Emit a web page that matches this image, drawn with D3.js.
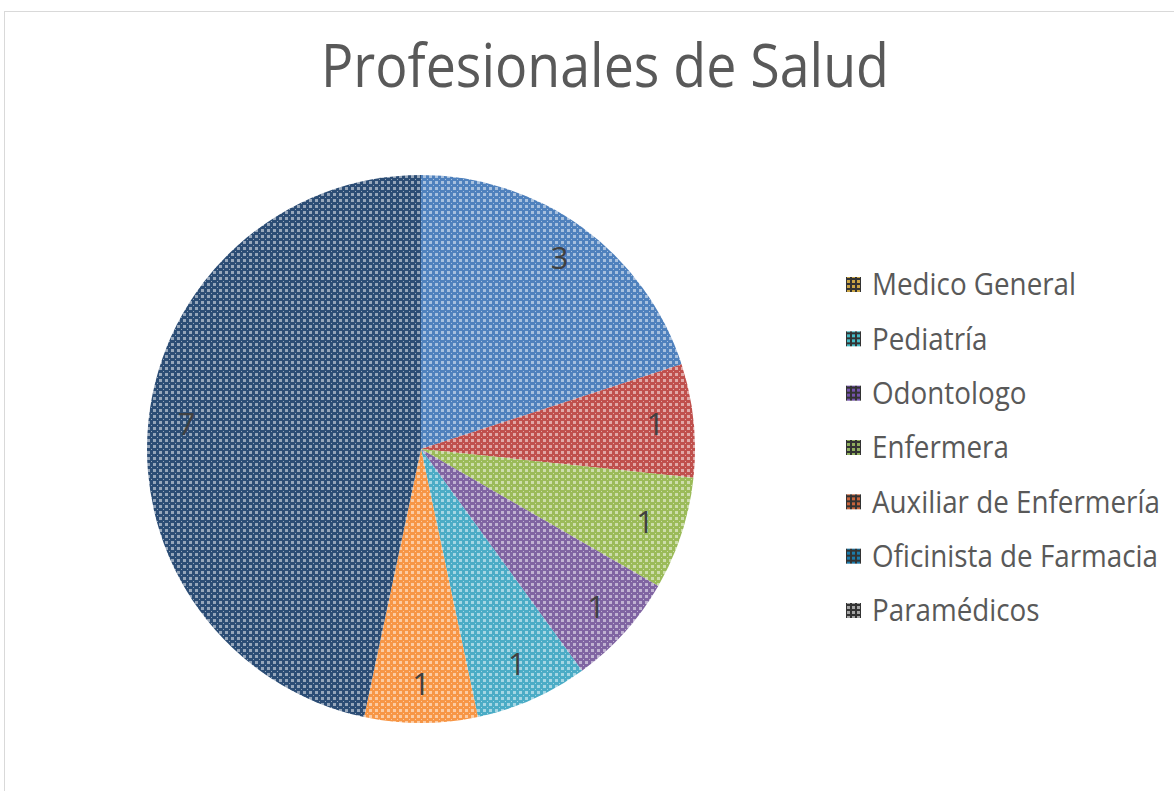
<!DOCTYPE html>
<html>
<head>
<meta charset="utf-8">
<script src="https://cdn.jsdelivr.net/npm/d3@7"></script>
<style>
  body { margin: 0; background: #fff; }
  text { font-family: "Open Sans", "Noto Sans", sans-serif; }
</style>
</head>
<body>
<div id="main"></div>
<script>
// data
const categories = ["Medico General", "Pediatría", "Odontologo", "Enfermera",
    "Auxiliar de Enfermería", "Oficinista de Farmacia", "Paramédicos"];
const values = [3, 1, 1, 1, 1, 1, 7];
const sliceColors = ["#4f81bd", "#c0504d", "#9bbb59", "#8064a2", "#4bacc6", "#f79646", "#2c4d75"];
const legendColors = ["#c9a445", "#46bcc6", "#7453ad", "#8fae5e", "#c8643c", "#1b7bab", "#a5a5a5"];

// dimensions
const svg_width = 1174,
    svg_height = 791;
const cx = 421, cy = 449, radius = 274;

var svg = d3.select("#main").append("svg")
    .attr("width", svg_width)
    .attr("height", svg_height);

// chart frame
svg.append("rect")
    .attr("x", 4.5).attr("y", 11.5)
    .attr("width", svg_width + 20).attr("height", svg_height + 20)
    .attr("fill", "#fff")
    .attr("stroke", "#d9d9d9");

var defs = svg.append("defs");

// pattern fills for the slices (light crosses over the colour)
sliceColors.forEach(function(c, i) {
    var p = defs.append("pattern")
        .attr("id", "slice" + i)
        .attr("patternUnits", "userSpaceOnUse")
        .attr("width", 6).attr("height", 6);
    p.append("rect").attr("width", 6).attr("height", 6).attr("fill", c);
    var light = d3.interpolateRgb(c, "#fff")(0.5);
    p.append("rect").attr("x", 2).attr("y", 2).attr("width", 3).attr("height", 3).attr("fill", light);
    p.append("rect").attr("x", 0).attr("y", 0).attr("width", 1).attr("height", 1).attr("fill", light);
});

// pattern fills for the legend keys (colour crosses on dark)
legendColors.forEach(function(c, i) {
    var p = defs.append("pattern")
        .attr("id", "key" + i)
        .attr("patternUnits", "userSpaceOnUse")
        .attr("width", 5).attr("height", 5);
    p.append("rect").attr("width", 5).attr("height", 5).attr("fill", "#333");
    p.append("rect").attr("x", 1).attr("y", 1).attr("width", 3).attr("height", 3).attr("fill", c);
});

// title
var title = svg.append("text")
    .attr("x", 0).attr("y", 0)
    .attr("text-anchor", "middle")
    .attr("font-size", 60)
    .attr("fill", "#595959")
    .text("Profesionales de Salud");
var tw = title.node().getComputedTextLength();
title.attr("transform", `translate(605, 87) scale(${568 / tw}, 1)`);

// pie
var pie = d3.pie().sort(null).value(function(d) { return d; });
var arcs = pie(values);
var arc = d3.arc().innerRadius(0).outerRadius(radius);
var labelArc = d3.arc().innerRadius(radius * 0.86).outerRadius(radius * 0.86);

var g = svg.append("g").attr("transform", `translate(${cx}, ${cy})`);

g.selectAll(".slice")
    .data(arcs)
    .enter()
    .append("path")
    .attr("class", "slice")
    .attr("d", arc)
    .attr("fill", function(d, i) { return "url(#slice" + i + ")"; });

g.selectAll(".label")
    .data(arcs)
    .enter()
    .append("text")
    .attr("class", "label")
    .attr("transform", function(d) { return `translate(${labelArc.centroid(d)})`; })
    .attr("text-anchor", "middle")
    .attr("dy", "0.35em")
    .attr("font-size", 31)
    .attr("fill", "#404040")
    .text(function(d) { return d.data; });

// legend
var legendY = d3.scalePoint()
    .domain(categories)
    .range([284, 610]);

var legend = svg.append("g").attr("id", "legend");
var rows = legend.selectAll(".row")
    .data(categories)
    .enter()
    .append("g")
    .attr("class", "row")
    .attr("transform", function(d) { return `translate(846, ${legendY(d)})`; });

rows.append("rect")
    .attr("x", 0).attr("y", -7)
    .attr("width", 15).attr("height", 15)
    .attr("fill", function(d, i) { return "url(#key" + i + ")"; });

var labels = rows.append("text")
    .attr("x", 0)
    .attr("dy", "0.36em")
    .attr("font-size", 31)
    .attr("fill", "#595959")
    .text(function(d) { return d; });

// squeeze legend text to the narrow look of the original
var widest = labels.nodes()[4].getComputedTextLength();
var k = 288 / widest;
labels.attr("transform", `translate(26, 0) scale(${k}, 1)`);
</script>
</body>
</html>
